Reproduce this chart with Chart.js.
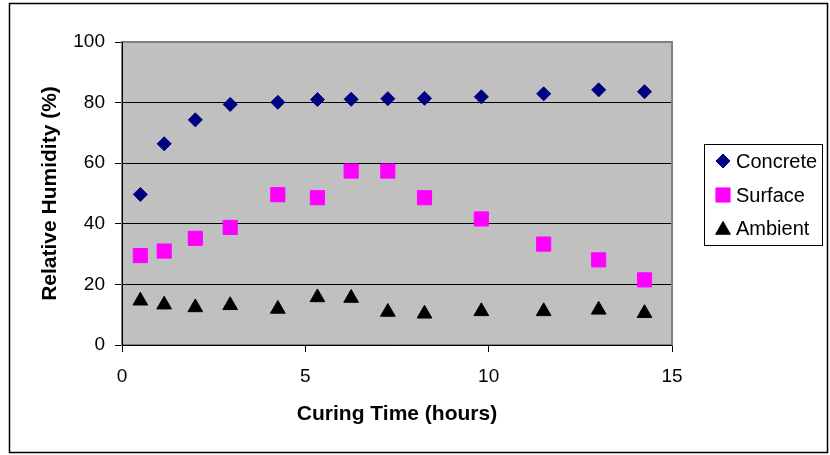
<!DOCTYPE html>
<html>
<head>
<meta charset="utf-8">
<script src="https://cdn.jsdelivr.net/npm/chart.js@4.4.1/dist/chart.umd.min.js"></script>
<style>
  html, body { margin: 0; padding: 0; background: #fff; }
  #wrap { width: 830px; height: 455px; }
</style>
</head>
<body>
<div id="wrap"><canvas id="rhChart" width="830" height="455"></canvas></div>
<script>
// curing time (hours) of each reading
const hours = [0.5, 1.15, 2.0, 2.95, 4.25, 5.33, 6.25, 7.25, 8.25, 9.8, 11.5, 13.0, 14.25];
const concrete = [49.7, 66.4, 74.3, 79.4, 80.1, 81.0, 81.1, 81.3, 81.4, 81.9, 82.9, 84.2, 83.6];
const surface = [29.5, 31.0, 35.2, 38.8, 49.6, 48.6, 57.4, 57.4, 48.6, 41.6, 33.3, 28.1, 21.5];
const ambient = [14.6, 13.3, 12.4, 13.1, 11.9, 15.7, 15.5, 10.9, 10.3, 11.1, 11.1, 11.6, 10.5];
const xTicks = [0, 5, 10, 15];
const yTicks = [0, 20, 40, 60, 80, 100];

const FONT = "'Liberation Sans', Arial, sans-serif";

function toPoints(values) {
    return values.map((v, i) => ({ x: hours[i], y: v }));
}

const series = [
    { label: 'Concrete', data: concrete, color: '#000080', style: 'rectRot', radius: 7 },
    { label: 'Surface', data: surface, color: '#FF00FF', style: 'rect', radius: 10 },
    { label: 'Ambient', data: ambient, color: '#000000', style: 'triangle', radius: 8.5 }
];

// small fallback in case helpers.drawPoint is not exposed
function marker(ctx, style, r, x, y) {
    if (Chart.helpers && Chart.helpers.drawPoint) {
        Chart.helpers.drawPoint(ctx, { pointStyle: style, radius: r, rotation: 0, borderWidth: 1 }, x, y);
        return;
    }
    ctx.beginPath();
    if (style === 'rect') {
        const s = r * Math.SQRT1_2;
        ctx.rect(x - s, y - s, 2 * s, 2 * s);
    } else if (style === 'rectRot') {
        ctx.moveTo(x - r, y); ctx.lineTo(x, y - r); ctx.lineTo(x + r, y); ctx.lineTo(x, y + r);
    } else {
        ctx.moveTo(x, y - r);
        ctx.lineTo(x + r * 0.866, y + r / 2);
        ctx.lineTo(x - r * 0.866, y + r / 2);
    }
    ctx.closePath();
    ctx.fill();
    ctx.stroke();
}

// gray plot area + outer frame
const plotBackground = {
    id: 'plotBackground',
    beforeDraw(chart) {
        const ctx = chart.ctx;
        const a = chart.chartArea;
        ctx.save();
        ctx.fillStyle = '#fff';
        ctx.fillRect(0, 0, chart.width, chart.height);
        ctx.fillStyle = '#C0C0C0';
        ctx.fillRect(a.left, a.top, a.right - a.left, a.bottom - a.top);
        ctx.strokeStyle = '#000';
        ctx.lineWidth = 1.5;
        ctx.strokeRect(9.5, 3.5, 818, 449);
        ctx.restore();
    },
    beforeDatasetsDraw(chart) {
        const ctx = chart.ctx;
        const a = chart.chartArea;
        ctx.save();
        ctx.strokeStyle = '#808080';
        ctx.lineWidth = 2;
        ctx.strokeRect(a.left, a.top, a.right - a.left, a.bottom - a.top);
        ctx.strokeStyle = '#000';
        ctx.lineWidth = 1;
        ctx.beginPath();
        ctx.moveTo(a.left + 0.5, a.top);
        ctx.lineTo(a.left + 0.5, a.bottom + 0.5);
        ctx.lineTo(a.right, a.bottom + 0.5);
        ctx.stroke();
        ctx.restore();
    }
};

// legend box drawn by hand so it sits where the original one is
const boxLegend = {
    id: 'boxLegend',
    afterDraw(chart) {
        const ctx = chart.ctx;
        ctx.save();
        ctx.strokeStyle = '#000';
        ctx.lineWidth = 1;
        ctx.strokeRect(704.5, 144.5, 118, 101);
        ctx.font = '20px ' + FONT;
        ctx.textBaseline = 'middle';
        ctx.textAlign = 'left';
        const rows = [161, 195, 228];
        series.forEach((s, i) => {
            ctx.fillStyle = s.color;
            ctx.strokeStyle = s.color;
            ctx.lineWidth = 1;
            const my = s.style === 'triangle' ? rows[i] + 2 : rows[i];
            marker(ctx, s.style, s.radius, 723, my);
            ctx.fillStyle = '#000';
            ctx.fillText(s.label, 736, rows[i] + 1);
        });
        ctx.restore();
    }
};

new Chart(document.getElementById('rhChart'), {
    type: 'scatter',
    data: {
        datasets: series.map(s => ({
            label: s.label,
            data: toPoints(s.data),
            pointStyle: s.style,
            pointRadius: s.radius,
            pointHoverRadius: s.radius,
            backgroundColor: s.color,
            borderColor: s.color,
            borderWidth: 1
        }))
    },
    options: {
        responsive: false,
        animation: false,
        events: [],
        layout: { padding: { top: 42, right: 158, left: 0, bottom: 0 } },
        plugins: {
            legend: { display: false },
            tooltip: { enabled: false }
        },
        scales: {
            x: {
                type: 'linear',
                min: 0,
                max: 15,
                afterBuildTicks(scale) { scale.ticks = xTicks.map(v => ({ value: v })); },
                afterFit(scale) { scale.height = 110; },
                grid: { drawOnChartArea: false, tickLength: 7, color: '#000', tickColor: '#000' },
                border: { display: false },
                ticks: { color: '#000', padding: 13, font: { family: FONT, size: 19 } },
                title: {
                    display: true,
                    text: 'Curing Time (hours)',
                    color: '#000',
                    font: { family: FONT, size: 21, weight: 'bold' },
                    padding: { top: 0, bottom: 28 }
                }
            },
            y: {
                type: 'linear',
                min: 0,
                max: 100,
                afterBuildTicks(scale) { scale.ticks = yTicks.map(v => ({ value: v })); },
                afterFit(scale) { scale.width = 122; },
                grid: {
                    tickLength: 7,
                    color: ctx => (ctx.tick && (ctx.tick.value === 0 || ctx.tick.value === 100)) ? 'rgba(0,0,0,0)' : '#000',
                    tickColor: '#000'
                },
                border: { display: false },
                ticks: { color: '#000', padding: 10, font: { family: FONT, size: 19 } },
                title: {
                    display: true,
                    text: 'Relative Humidity (%)',
                    color: '#000',
                    font: { family: FONT, size: 21, weight: 'bold' },
                    padding: { top: 38, bottom: 0 }
                }
            }
        }
    },
    plugins: [plotBackground, boxLegend]
});
</script>
</body>
</html>
